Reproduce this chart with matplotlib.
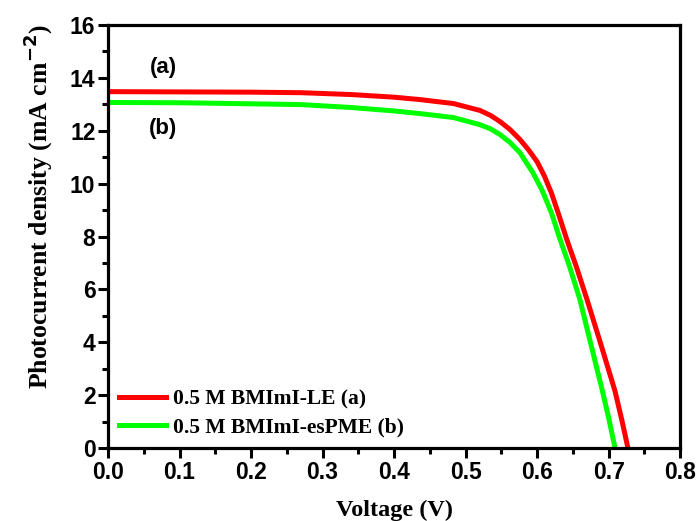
import matplotlib
matplotlib.use("Agg")
import matplotlib.pyplot as plt
from matplotlib.ticker import MultipleLocator

# J-V curves
v_le = [0, 0.1, 0.2, 0.27, 0.34, 0.40, 0.436, 0.483, 0.52, 0.535, 0.548, 0.562,
        0.576, 0.588, 0.60, 0.61, 0.62, 0.63, 0.642, 0.655, 0.67, 0.69, 0.709,
        0.719, 0.727]
j_le = [13.48, 13.47, 13.46, 13.44, 13.37, 13.27, 13.18, 13.03, 12.77, 12.58,
        12.35, 12.05, 11.67, 11.28, 10.83, 10.3, 9.65, 8.85, 7.85, 6.85, 5.6,
        3.85, 2.15, 1.0, 0]

v_pme = [0, 0.1, 0.2, 0.27, 0.34, 0.40, 0.436, 0.483, 0.52, 0.535, 0.548, 0.562,
         0.576, 0.594, 0.607, 0.62, 0.632, 0.645, 0.66, 0.675, 0.691, 0.70,
         0.709]
j_pme = [13.07, 13.06, 13.02, 12.99, 12.88, 12.75, 12.65, 12.5, 12.23, 12.07,
         11.86, 11.56, 11.17, 10.42, 9.75, 8.9, 7.9, 6.9, 5.6, 3.95, 2.2, 1.15,
         0]

labels = ["0.5 M BMImI-LE (a)", "0.5 M BMImI-esPME (b)"]

fig = plt.figure(figsize=(6.99, 5.21), dpi=100)
ax = fig.add_axes([0.1545, 0.140, 0.8185, 0.812])

ax.plot(v_le, j_le, color="#ff0000", lw=3.6, label=labels[0])
ax.plot(v_pme, j_pme, color="#00ff00", lw=3.6, label=labels[1])

ax.set_xlim(0, 0.8)
ax.set_ylim(0, 16)
ax.xaxis.set_major_locator(MultipleLocator(0.1))
ax.xaxis.set_minor_locator(MultipleLocator(0.05))
ax.yaxis.set_major_locator(MultipleLocator(2))
ax.yaxis.set_minor_locator(MultipleLocator(1))
ax.xaxis.set_major_formatter(plt.FuncFormatter(lambda x, p: f"{x:.1f}"))

for s in ax.spines.values():
    s.set_linewidth(2.3)
ax.tick_params(which="major", direction="out", length=7, width=2.2,
               labelsize=16.5, pad=2)
ax.tick_params(which="minor", direction="out", length=4, width=2.2)
for t in ax.get_xticklabels() + ax.get_yticklabels():
    t.set_fontfamily("Liberation Sans")
    t.set_fontweight("bold")

ax.set_xlabel("Voltage (V)", fontfamily="Liberation Serif", fontweight="bold",
              fontsize=17.5, labelpad=12)
ax.set_ylabel("Photocurrent density (mA cm$^{\\mathbf{-2}}$)",
              fontfamily="Liberation Serif", fontweight="bold", fontsize=18.5)
ax.yaxis.set_label_coords(-0.092, 0.57)

ax.text(0.077, 14.4, "(a)", fontfamily="Liberation Sans", fontweight="bold",
        fontsize=16, ha="center", va="center")
ax.text(0.077, 12.1, "(b)", fontfamily="Liberation Sans", fontweight="bold",
        fontsize=16, ha="center", va="center")

ax.legend(loc="lower left", frameon=False, handlelength=2.2, handletextpad=0.3,
          borderaxespad=0.1, labelspacing=0.35,
          prop={"family": "Liberation Serif", "weight": "bold", "size": 15.5})

fig.savefig("out.png", dpi=100)
